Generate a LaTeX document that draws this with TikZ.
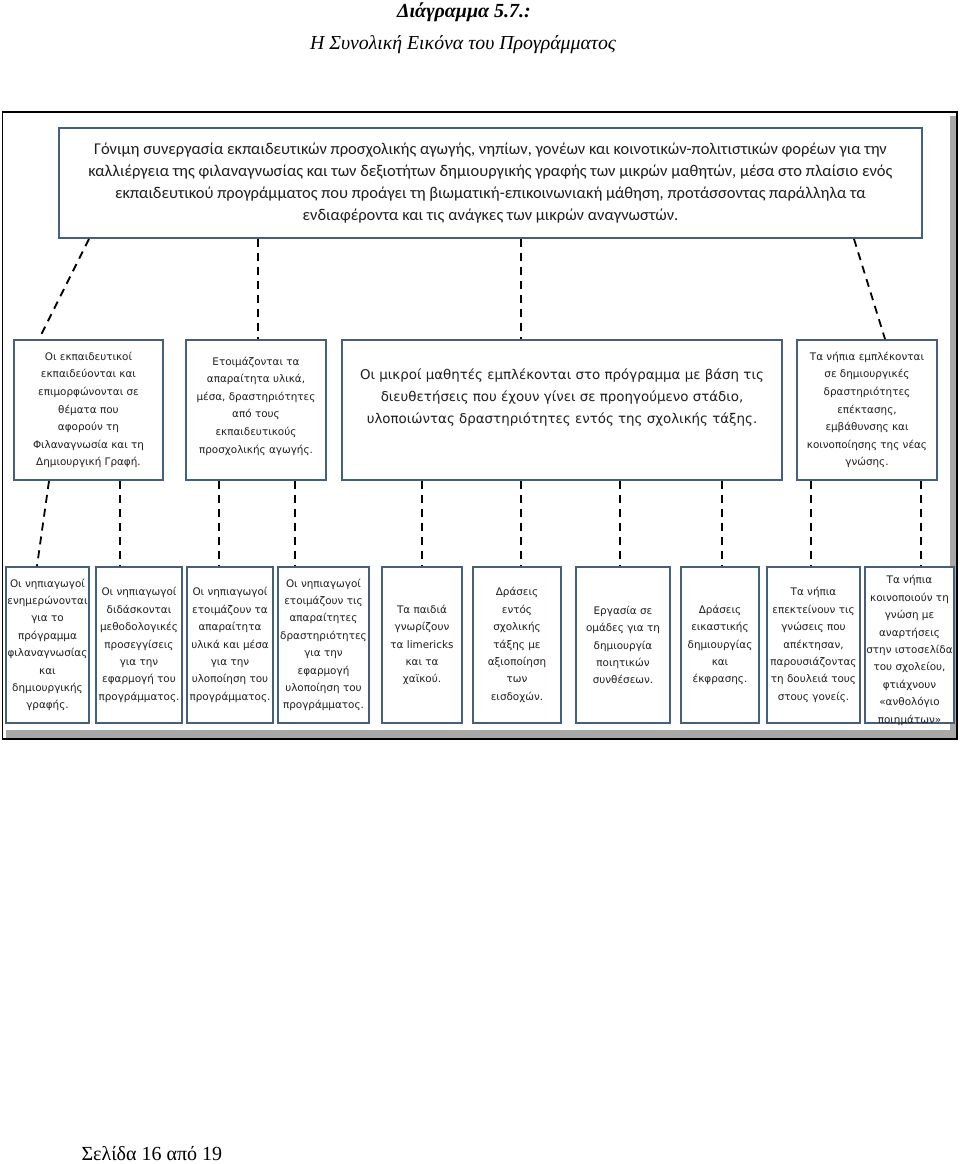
\documentclass[tikz,border=0pt]{standalone}
\usepackage{fontspec}
\setmainfont{Liberation Serif}
\newfontfamily\calfont{Carlito}
\newfontfamily\verfont{DejaVu Sans}
\definecolor{boxline}{HTML}{44607F}
\definecolor{shadow}{HTML}{A8A8A8}
\definecolor{inktext}{HTML}{1E1E1E}
\tikzset{
  box/.style={draw=boxline,line width=2pt,fill=white,align=center,inner sep=1pt,
    text=inktext},
  aimbox/.style={box,font=\calfont\fontsize{16.5}{22}\selectfont,
    minimum width=863pt,minimum height=110pt},
  stagebox/.style={box,font=\verfont\fontsize{10.4}{17.6}\selectfont,
    minimum height=140pt},
  actbox/.style={box,font=\verfont\fontsize{10.4}{17.4}\selectfont,
    minimum height=156pt,inner ysep=0pt},
  link/.style={draw=black,line width=1.8pt,dash pattern=on 8pt off 6pt},
}
\begin{document}
\begin{tikzpicture}[x=1pt,y=-1pt,
  pagetitle/.style={anchor=base,font=\fontsize{20}{24}\selectfont}]
\useasboundingbox (0,0) rectangle (960,1164);

\node[pagetitle,font=\bfseries\itshape\fontsize{20}{24}\selectfont] (title) at (464,18)
  {Διάγραμμα 5.7.:};
\node[pagetitle,font=\itshape\fontsize{19.8}{24}\selectfont] (subtitle) at (463,49)
  {Η Συνολική Εικόνα του Προγράμματος};

\fill[shadow] (950,116) rectangle (956,738);
\fill[shadow] (6,730) rectangle (956,738);
\draw[line width=1.2pt] (2.5,112) rectangle (957,739);

\node[aimbox] (aim) at (490.5,183)
  {Γόνιμη συνεργασία εκπαιδευτικών προσχολικής αγωγής, νηπίων, γονέων και κοινοτικών-πολιτιστικών φορέων για την\\
   καλλιέργεια της φιλαναγνωσίας και των δεξιοτήτων δημιουργικής γραφής των μικρών μαθητών, μέσα στο πλαίσιο ενός\\
   εκπαιδευτικού προγράμματος που προάγει τη βιωματική-επικοινωνιακή μάθηση, προτάσσοντας παράλληλα τα\\
   ενδιαφέροντα και τις ανάγκες των μικρών αναγνωστών.};

\node[stagebox,minimum width=149pt] (teachers) at (88.5,410)
  {Οι εκπαιδευτικοί\\εκπαιδεύονται και\\επιμορφώνονται σε\\θέματα που\\αφορούν τη\\Φιλαναγνωσία και τη\\Δημιουργική Γραφή.};
\node[stagebox,minimum width=140pt,text depth=10pt] (materials) at (256,410)
  {Ετοιμάζονται τα\\απαραίτητα υλικά,\\μέσα, δραστηριότητες\\από τους\\εκπαιδευτικούς\\προσχολικής αγωγής.};
\node[stagebox,minimum width=440pt,text depth=28pt,
  font=\verfont\fontsize{13.4}{22}\selectfont] (pupils) at (562,410)
  {Οι μικροί μαθητές εμπλέκονται στο πρόγραμμα με βάση τις\\
   διευθετήσεις που έχουν γίνει σε προηγούμενο στάδιο,\\
   υλοποιώντας δραστηριότητες εντός της σχολικής τάξης.};
\node[stagebox,minimum width=140pt] (sharing) at (867,410)
  {Τα νήπια εμπλέκονται\\σε δημιουργικές\\δραστηριότητες\\επέκτασης,\\εμβάθυνσης και\\κοινοποίησης της νέας\\γνώσης.};

\node[actbox,minimum width=83pt] (informed) at (47.5,645)
  {Οι νηπιαγωγοί\\ενημερώνονται\\για το\\πρόγραμμα\\φιλαναγνωσίας\\και\\δημιουργικής\\γραφής.};
\node[actbox,minimum width=86pt] (methods) at (139,645)
  {Οι νηπιαγωγοί\\διδάσκονται\\μεθοδολογικές\\προσεγγίσεις\\για την\\εφαρμογή του\\προγράμματος.};
\node[actbox,minimum width=86pt] (supplies) at (230,645)
  {Οι νηπιαγωγοί\\ετοιμάζουν τα\\απαραίτητα\\υλικά και μέσα\\για την\\υλοποίηση του\\προγράμματος.};
\node[actbox,minimum width=91pt] (activities) at (323.5,645)
  {Οι νηπιαγωγοί\\ετοιμάζουν τις\\απαραίτητες\\δραστηριότητες\\για την\\εφαρμογή\\υλοποίηση του\\προγράμματος.};
\node[actbox,minimum width=80pt] (limericks) at (422,645)
  {Τα παιδιά\\γνωρίζουν\\τα limericks\\και τα\\χαϊκού.};
\node[actbox,minimum width=88pt] (classwork) at (517,645)
  {Δράσεις\\εντός\\σχολικής\\τάξης με\\αξιοποίηση\\των\\εισδοχών.};
\node[actbox,minimum width=94pt] (groupwork) at (623,645)
  {Εργασία σε\\ομάδες για τη\\δημιουργία\\ποιητικών\\συνθέσεων.};
\node[actbox,minimum width=78pt] (artwork) at (720,645)
  {Δράσεις\\εικαστικής\\δημιουργίας\\και\\έκφρασης.};
\node[actbox,minimum width=93pt] (parents) at (813.5,645)
  {Τα νήπια\\επεκτείνουν τις\\γνώσεις που\\απέκτησαν,\\παρουσιάζοντας\\τη δουλειά τους\\στους γονείς.};
\node[actbox,minimum width=85pt,text height=156pt,text depth=0pt] (website) at (909.5,645)
  {Τα νήπια\\κοινοποιούν τη\\γνώση με\\αναρτήσεις\\στην ιστοσελίδα\\του σχολείου,\\φτιάχνουν\\«ανθολόγιο\\ποιημάτων»};

\draw[link] ([xshift=31pt]aim.south west) -- ([xshift=26pt]teachers.north west);
\draw[link] ([xshift=-232.5pt]aim.south) -- ([xshift=2pt]materials.north);
\draw[link] ([xshift=30.5pt]aim.south) -- ([xshift=-41pt]pupils.north);
\draw[link] ([xshift=-69pt]aim.south east) -- ([xshift=-53pt]sharing.north east);

\draw[link] ([xshift=36pt]teachers.south west) -- ([xshift=32pt]informed.north west);
\draw[link] ([xshift=31.5pt]teachers.south) -- ([xshift=-19pt]methods.north);
\draw[link] ([xshift=-37pt]materials.south) -- ([xshift=-11pt]supplies.north);
\draw[link] ([xshift=39pt]materials.south) -- ([xshift=-28.5pt]activities.north);
\draw[link] ([xshift=-140pt]pupils.south) -- (limericks.north);
\draw[link] ([xshift=-41pt]pupils.south) -- ([xshift=4pt]classwork.north);
\draw[link] ([xshift=58pt]pupils.south) -- ([xshift=-3pt]groupwork.north);
\draw[link] ([xshift=160pt]pupils.south) -- ([xshift=2pt]artwork.north);
\draw[link] ([xshift=-56pt]sharing.south) -- ([xshift=-2.5pt]parents.north);
\draw[link] ([xshift=54pt]sharing.south) -- ([xshift=11.5pt]website.north);

\node[anchor=base west,font=\fontsize{20}{24}\selectfont] (pagenum) at (78,1160)
  {Σελίδα 16 από 19};
\end{tikzpicture}
\end{document}
